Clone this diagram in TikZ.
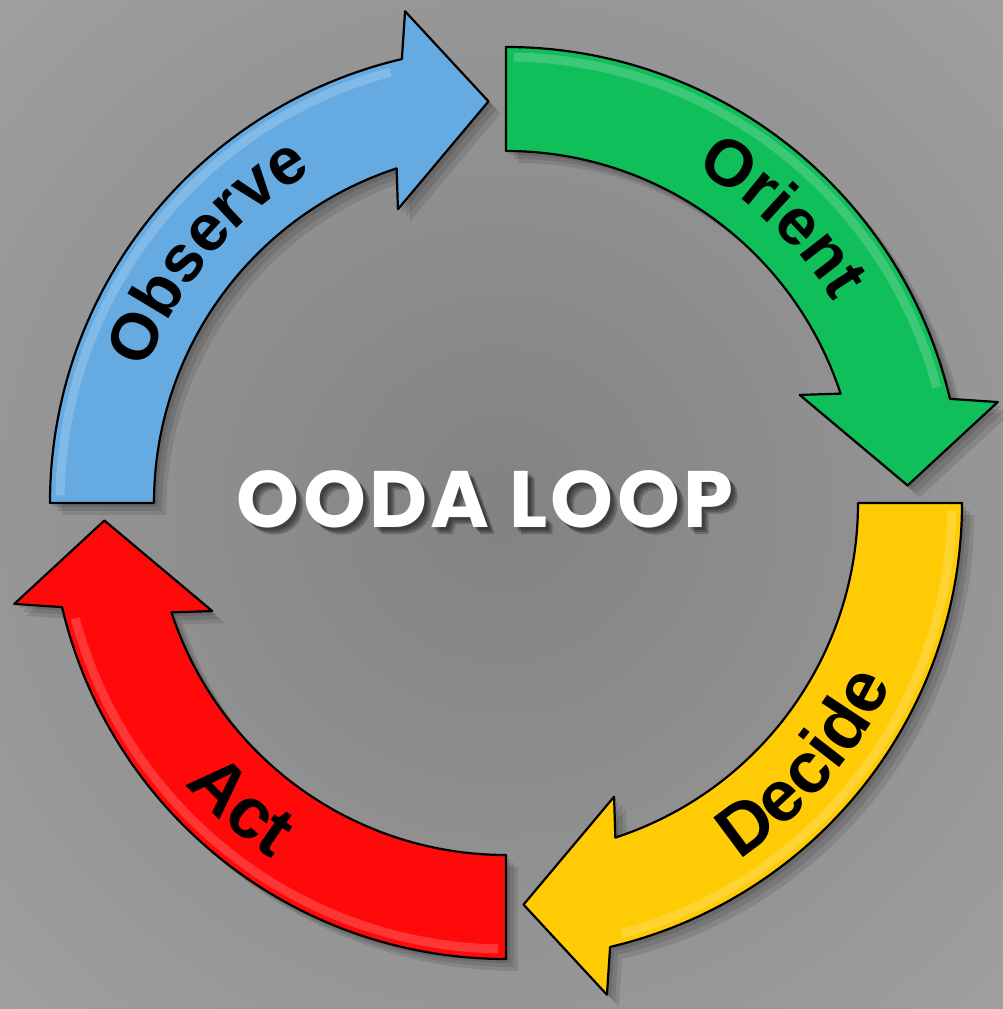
\documentclass[tikz,border=0pt]{standalone}
\usepackage{fontspec}
\usetikzlibrary{decorations.text}
\newfontfamily\labelfont{Liberation Sans}
\newfontfamily\titlefont{Poppins}[LetterSpace=4]
\newcommand{\toplabel}{\labelfont\bfseries\fontsize{66}{66}\selectfont}
\newcommand{\botlabel}{\labelfont\bfseries\fontsize{72}{72}\selectfont}
\definecolor{obsblue}{HTML}{66AAE2}
\definecolor{origreen}{HTML}{10BE5A}
\definecolor{decyellow}{HTML}{FFCB05}
\definecolor{actred}{HTML}{FF0A0A}
\definecolor{bginner}{HTML}{828282}
\definecolor{bgouter}{HTML}{ABABAB}
\pgfdeclareradialshading{bgshade}{\pgfpoint{0bp}{0bp}}{color(0bp)=(bginner); color(50bp)=(bgouter)}
% curved arrow, tail at angle #1, running clockwise
\newcommand{\loopshape}[1]{(#1:456) arc[start angle=#1, end angle={#1-76.8}, radius=456]
  -- ({#1-78.4}:502) -- ({#1-87.5}:402) -- ({#1-69.8}:313) -- ({#1-71.9}:352)
  arc[start angle={#1-71.9}, end angle=#1, radius=352] -- cycle}
\tikzset{
  loop arrow/.style={fill=#1, draw=black, line width=2.2pt, line join=round},
  loop shadow/.style={fill=black, opacity=0.1},
  loop gloss/.style={draw=white, opacity=0.18, line width=9pt},
  loop label/.style={decorate, decoration={text along path, text={#1}, text align=center}},
  title text/.style={inner sep=0pt, font=\titlefont\bfseries\fontsize{80}{80}\selectfont}
}

\begin{document}
\begin{tikzpicture}[x=1pt, y=1pt]
  \useasboundingbox (0,0) rectangle (1003,1009);
  \shade[shading=bgshade] (0,0) rectangle (1003,1009);
  \begin{scope}[shift={(506,506)}]
    \foreach \ang/\col in {180/obsblue, 90/origreen, 0/decyellow, -90/actred} {
      \foreach \d in {4,8,12}
        \path[loop shadow, shift={(\d,-\d)}] \loopshape{\ang};
      \path[loop arrow=\col] \loopshape{\ang};
      \draw[loop gloss] ({\ang-1}:446) arc[start angle={\ang-1}, end angle={\ang-75}, radius=446];
    }
    % labels: upper half reads clockwise, lower half counter-clockwise
    \path[loop label={|\toplabel|Observe}] (180:384) arc[start angle=180, end angle=100, radius=384];
    \path[loop label={|\toplabel|Orient}] (86:384) arc[start angle=86, end angle=6, radius=384];
    \path[loop label={|\botlabel|Decide}] (-81:426) arc[start angle=-81, end angle=-1, radius=426];
    \path[loop label={|\botlabel|Act}] (189:426) arc[start angle=189, end angle=269, radius=426];
  \end{scope}
  \foreach \d in {3,5,7}
    \node[title text, text=black, opacity=0.22] (titleshadow\d) at (485+\d,510-\d) {OODA LOOP};
  \node[title text, text=white] (title) at (485,510) {OODA LOOP};
\end{tikzpicture}
\end{document}
